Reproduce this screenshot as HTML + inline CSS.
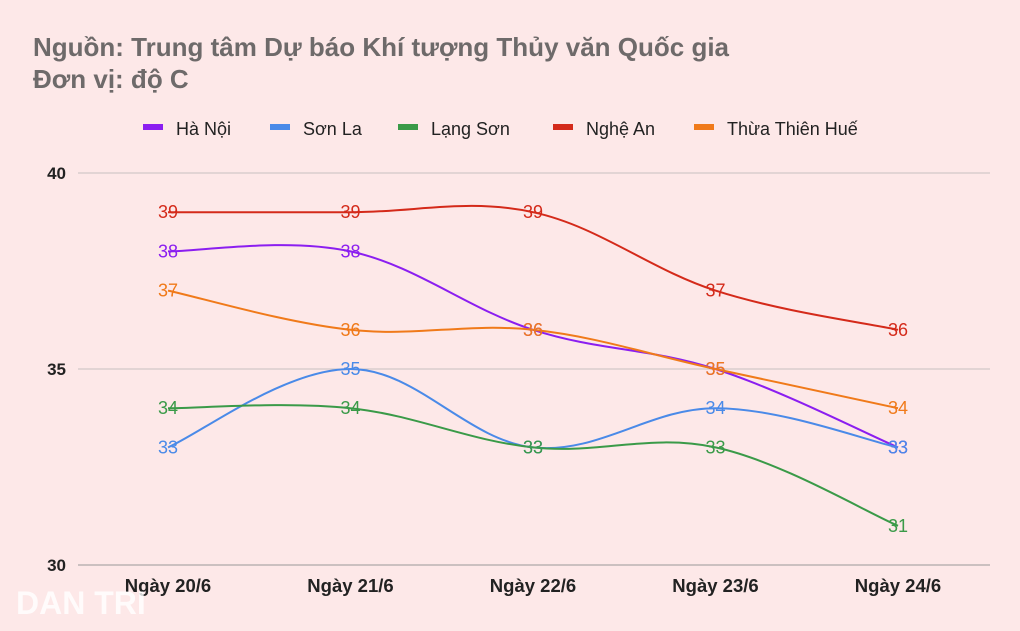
<!DOCTYPE html>
<html><head><meta charset="utf-8"><style>
body{margin:0;background:#fde8e8;}
svg{display:block;font-family:"Liberation Sans",sans-serif;}
</style></head><body>
<svg id="chart" width="1020" height="631" viewBox="0 0 1020 631">
<rect width="1020" height="631" fill="#fde8e8"/>
<text x="33" y="56" font-size="26" font-weight="bold" fill="#6e6a6a">Nguồn: Trung tâm Dự báo Khí tượng Thủy văn Quốc gia</text>
<text x="33" y="88" font-size="26" font-weight="bold" fill="#6e6a6a">Đơn vị: độ C</text>
<g id="legend"></g>
<g id="grid"></g><g id="lines"></g><g id="labels"></g>
<text x="16" y="614" font-size="32" font-weight="bold" fill="#ffffff" fill-opacity="0.8">DAN TRI</text>
</svg>
<script>
const categories=["Ngày 20/6","Ngày 21/6","Ngày 22/6","Ngày 23/6","Ngày 24/6"];
const seriesNames=["Hà Nội","Sơn La","Lạng Sơn","Nghệ An","Thừa Thiên Huế"];
const colors=["#8b1ef0","#4a8ae8","#3a9a48","#d42a1a","#f07a1a"];
const haNoi=[38,38,36,35,33];
const sonLa=[33,35,33,34,33];
const langSon=[34,34,33,33,31];
const ngheAn=[39,39,39,37,36];
const hue=[37,36,36,35,34];
const yTicks=[30,35,40];
const allSeries=[haNoi,sonLa,langSon,ngheAn,hue];
const NS="http://www.w3.org/2000/svg";
const x=i=>168+i*182.5;
const y=v=>565-(v-30)*39.2;
function mk(tag,attrs,parent,txt){const e=document.createElementNS(NS,tag);for(const k in attrs)e.setAttribute(k,attrs[k]);if(txt!=null)e.textContent=txt;parent.appendChild(e);return e;}
const grid=document.getElementById('grid'),lines=document.getElementById('lines'),labels=document.getElementById('labels'),legend=document.getElementById('legend');
yTicks.forEach(t=>{
 const l=mk('line',{x1:78,x2:990,y1:y(t),y2:y(t),stroke:t===30?'#999':'#c8c0c0','stroke-width':1},grid);
 
 
 const tx=mk('text',{x:66,y:y(t)+6,'font-size':17,'font-weight':'bold','text-anchor':'end',fill:'#222'},grid,t);
 
 
});
categories.forEach((c,i)=>{
 const tx=mk('text',{x:x(i),y:592,'font-size':18.5,'font-weight':'bold','text-anchor':'middle',fill:'#222'},grid,c);
 
 
});
function path(vals){
 const p=vals.map((v,i)=>[x(i),y(v)]);
 let d=`M${p[0][0]},${p[0][1]}`;
 for(let i=0;i<p.length-1;i++){
  const p0=p[i-1]||p[i],p1=p[i],p2=p[i+1],p3=p[i+2]||p2;
  const t=0.18;
  const c1=[p1[0]+(p2[0]-p0[0])*t,p1[1]+(p2[1]-p0[1])*t];
  const c2=[p2[0]-(p3[0]-p1[0])*t,p2[1]-(p3[1]-p1[1])*t];
  d+=` C${c1[0]},${c1[1]} ${c2[0]},${c2[1]} ${p2[0]},${p2[1]}`;
 }
 return d;
}
allSeries.forEach((vals,s)=>{
 const pth=mk('path',{d:path(vals),fill:'none',stroke:colors[s],'stroke-width':2},lines);
 
 
 vals.forEach((v,i)=>{
  const t=mk('text',{x:x(i),y:y(v)+6,'font-size':18,'text-anchor':'middle',fill:colors[s]},labels,v);
  
  
 });
});
const legX=[143,270,398,553,694];
seriesNames.forEach((n,s)=>{
 const g=mk('g',{},legend);
 
 
 mk('rect',{x:legX[s],y:124,width:20,height:6,fill:colors[s]},g);
 mk('text',{x:legX[s]+33,y:135,'font-size':18,fill:'#222'},g,n);
});
</script>
</body></html>
